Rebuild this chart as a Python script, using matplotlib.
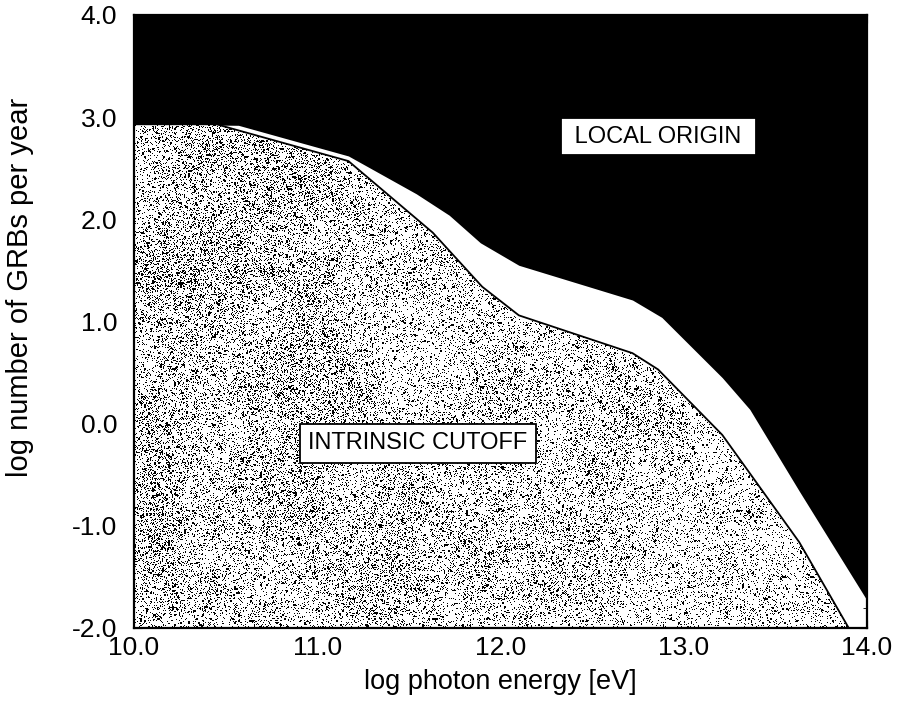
import numpy as np
import matplotlib
matplotlib.use("Agg")
import matplotlib.pyplot as plt
from matplotlib.ticker import MultipleLocator

plt.rcParams['font.family'] = ['Liberation Sans', 'DejaVu Sans']

# --- data ---
# upper boundary: above it the origin must be local (black region)
upper_x = [10.0, 10.57, 11.17, 11.54, 11.72, 11.89, 12.10, 12.72, 12.88, 13.21, 13.36, 13.63, 14.0]
upper_y = [2.93, 2.92, 2.62, 2.25, 2.04, 1.77, 1.55, 1.21, 1.04, 0.45, 0.14, -0.66, -1.73]

# lower boundary: below it the cutoff can be intrinsic (stippled region)
lower_x = [10.0, 10.45, 11.17, 11.63, 11.90, 12.10, 12.72, 12.86, 13.21, 13.43, 13.63, 13.90]
lower_y = [2.93, 2.93, 2.57, 1.87, 1.34, 1.06, 0.69, 0.53, -0.11, -0.66, -1.16, -2.0]

x_ticks = [10.0, 11.0, 12.0, 13.0, 14.0]
y_ticks = [-2.0, -1.0, 0.0, 1.0, 2.0, 3.0, 4.0]

fig = plt.figure(figsize=(8.97, 7.06), dpi=100)
ax = fig.add_axes([0.1494, 0.1105, 0.8172, 0.8683])
ax.set_xlim(10, 14)
ax.set_ylim(-2, 4)

# black "local origin" area above the upper curve
ax.fill_between(upper_x, upper_y, 4, color='black', lw=0, zorder=1)

# stippled "intrinsic cutoff" area below the lower curve (texture only)
poly_x = lower_x + [lower_x[-1], 10.0]
poly_y = lower_y + [-2.0, -2.0]
patch = ax.fill(poly_x, poly_y, color='white', lw=0, zorder=1)[0]
rng = np.random.default_rng(3)
nx, ny = 734, 614
gx = np.linspace(0, 1, nx)[None, :]
# slow blotchy variation so the stipple is not perfectly even
blot = rng.random((ny // 40 + 2, nx // 40 + 2))
blot = np.kron(blot, np.ones((40, 40)))[:ny, :nx]
k = np.ones(41) / 41
blot = np.apply_along_axis(lambda r: np.convolve(r, k, mode='same'), 1, blot)
blot = np.apply_along_axis(lambda c: np.convolve(c, k, mode='same'), 0, blot)
dens = (0.21 - 0.10 * gx) * (0.6 + 0.8 * blot)
fine = rng.random((ny, nx)) < dens
coarse = rng.random((ny, nx)) < dens * 0.18
coarse = np.kron(coarse[::2, ::2], np.ones((2, 2), dtype=bool))[:ny, :nx]
noise = (fine | coarse).astype(float)
img = ax.imshow(noise, extent=[10, 14, -2, 4], aspect='auto', cmap='Greys',
                interpolation='nearest', vmin=0, vmax=1, zorder=2)
img.set_clip_path(patch)
ax.plot(lower_x, lower_y, color='black', lw=1.3, zorder=3)

box = dict(boxstyle='square,pad=0.32', fc='white', ec='black', lw=1.3)
ax.text(12.86, 2.81, ' LOCAL ORIGIN ', ha='center', va='center', fontsize=17, bbox=box, zorder=5)
box2 = dict(box, boxstyle='square,pad=0.36')
ax.text(11.55, -0.19, 'INTRINSIC CUTOFF', ha='center', va='center', fontsize=17, bbox=box2, zorder=5)

ax.set_xticks(x_ticks)
ax.set_xticklabels([f'{v:.1f}' for v in x_ticks], fontsize=19)
ax.set_yticks(y_ticks)
ax.set_yticklabels([f'{v:.1f}' for v in y_ticks], fontsize=19)
ax.xaxis.set_minor_locator(MultipleLocator(0.2))
ax.yaxis.set_minor_locator(MultipleLocator(0.2))
ax.tick_params(which='both', direction='in', top=True, right=True)
ax.tick_params(which='major', length=6)
ax.tick_params(which='minor', length=3)
ax.tick_params(axis='x', which='major', pad=6)
ax.tick_params(axis='y', which='major', pad=12)
for s in ax.spines.values():
    s.set_linewidth(1.6)
    s.set_zorder(6)

ax.set_xlabel('log photon energy [eV]', fontsize=19.5, labelpad=6)
ax.set_ylabel('log number of GRBs per year', fontsize=21)
ax.yaxis.set_label_coords(-0.137, 0.556)

fig.savefig('out.png', dpi=100)
